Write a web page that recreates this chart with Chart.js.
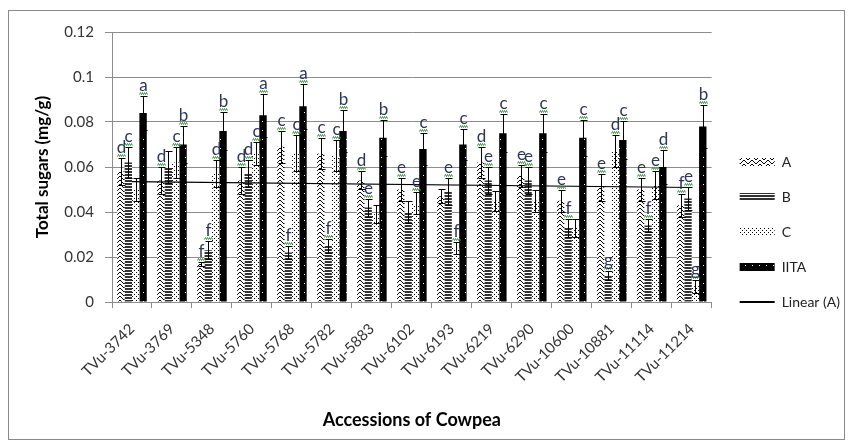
<!DOCTYPE html>
<html>
<head>
<meta charset="utf-8">
<script src="https://cdn.jsdelivr.net/npm/chart.js@4"></script>
<style>
body { margin: 0; background: #fff; overflow: hidden; }
#wrap { width: 853px; height: 448px; position: relative; }
</style>
</head>
<body>
<div id="wrap"><canvas id="sugars"></canvas></div>
<script>
const categories = ['TVu-3742', 'TVu-3769', 'TVu-5348', 'TVu-5760', 'TVu-5768', 'TVu-5782', 'TVu-5883', 'TVu-6102',
    'TVu-6193', 'TVu-6219', 'TVu-6290', 'TVu-10600', 'TVu-10881', 'TVu-11114', 'TVu-11214'];

const valuesA = [0.058, 0.054, 0.017, 0.054, 0.069, 0.066, 0.054, 0.050, 0.047, 0.062, 0.056, 0.045, 0.051, 0.050, 0.043];
const valuesB = [0.062, 0.060, 0.023, 0.057, 0.022, 0.025, 0.042, 0.040, 0.049, 0.054, 0.054, 0.033, 0.012, 0.034, 0.046];
const valuesC = [0.050, 0.062, 0.057, 0.066, 0.066, 0.065, 0.039, 0.044, 0.024, 0.045, 0.045, 0.033, 0.067, 0.052, 0.007];
const valuesIITA = [0.084, 0.070, 0.076, 0.083, 0.087, 0.076, 0.073, 0.068, 0.070, 0.075, 0.075, 0.073, 0.072, 0.060, 0.078];

const errorsA = [0.006, 0.006, 0.001, 0.006, 0.007, 0.007, 0.004, 0.005, 0.003, 0.007, 0.005, 0.005, 0.006, 0.005, 0.005];
const errorsB = [0.007, 0.007, 0.004, 0.006, 0.003, 0.003, 0.004, 0.005, 0.006, 0.006, 0.006, 0.004, 0.002, 0.003, 0.005];
const errorsC = [0.005, 0.007, 0.006, 0.005, 0.008, 0.007, 0.004, 0.005, 0.0025, 0.0045, 0.005, 0.004, 0.007, 0.006, 0.003];
const errorsIITA = [0.0075, 0.008, 0.0085, 0.0095, 0.010, 0.0095, 0.008, 0.007, 0.007, 0.0085, 0.0085, 0.008, 0.0085, 0.0075, 0.0095];

const lettersA = ['d', 'd', 'f', 'd', 'c', 'c', 'd', 'e', '', 'd', 'e', 'e', 'e', 'e', 'f'];
const lettersB = ['c', '', 'f', 'd', 'f', 'f', 'e', '', 'e', 'e', 'e', 'f', 'g', 'f', 'e'];
const lettersC = ['', 'c', 'd', 'c', 'c', 'c', '', 'e', 'f', '', '', '', 'd', 'e', 'g'];
const lettersIITA = ['a', 'b', 'b', 'a', 'a', 'b', 'b', 'c', 'c', 'c', 'c', 'c', 'c', 'd', 'b'];

// Linear (A) trendline, read at first and last accession
const trendLineA = [0.0535, null, null, null, null, null, null, null, null, null, null, null, null, null, 0.0509];

const yTickLabels = ['0', '0.02', '0.04', '0.06', '0.08', '0.1', '0.12'];

function makePattern(w, h, bg, fg, pixels) {
    const c = document.createElement('canvas');
    c.width = w; c.height = h;
    const g = c.getContext('2d');
    g.fillStyle = bg; g.fillRect(0, 0, w, h);
    g.fillStyle = fg;
    for (const p of pixels) g.fillRect(p[0], p[1], 1, 1);
    return g.createPattern(c, 'repeat');
}

// zig zag hatch, 8x8 tile
const zig = [];
[[0, 7], [1, 6], [2, 5], [3, 4]].forEach((r, i) => {
    zig.push([r[0], i], [r[1], i], [r[0], i + 4], [r[1], i + 4]);
});
const patA = makePattern(8, 8, '#fff', '#000', zig);
const patB = makePattern(4, 3, '#fff', '#333', [[0, 0], [1, 0], [2, 0], [3, 0], [0, 1], [1, 1], [2, 1], [3, 1]]);
const patC = makePattern(4, 4, '#fff', '#000', [[0, 0], [2, 2]]);
const patIITA = makePattern(7, 9, '#000', '#fff', [[3, 4]]);

const barSets = [
    {label: 'A', values: valuesA, errors: errorsA, letters: lettersA, fill: patA},
    {label: 'B', values: valuesB, errors: errorsB, letters: lettersB, fill: patB},
    {label: 'C', values: valuesC, errors: errorsC, letters: lettersC, fill: patC},
    {label: 'IITA', values: valuesIITA, errors: errorsIITA, letters: lettersIITA, fill: patIITA}
];

const datasets = barSets.map(s => ({
    type: 'bar', label: s.label, data: s.values, backgroundColor: s.fill,
    borderWidth: 0, categoryPercentage: 0.74, barPercentage: 1.0, order: 1
}));
datasets.push({
    type: 'line', label: 'Linear (A)', data: trendLineA, borderColor: '#000', borderWidth: 1.2,
    pointRadius: 0, spanGaps: true, fill: false, order: 0
});

const frame = {
    id: 'frame',
    afterLayout(chart) {
        // nudge legend a little to the right, like the original
        chart.legend.left += 7;
        chart.legend.right += 7;
    },
    beforeDraw(chart) {
        const ctx = chart.ctx;
        ctx.save();
        ctx.fillStyle = '#fff';
        ctx.fillRect(0, 0, chart.width, chart.height);
        ctx.strokeStyle = '#8a8a8a';
        ctx.lineWidth = 1;
        ctx.strokeRect(8.5, 10.5, 836, 429);
        ctx.restore();
    }
};

const errorBars = {
    id: 'errorBars',
    afterDatasetsDraw(chart) {
        const ctx = chart.ctx;
        const y = chart.scales.y;
        ctx.save();
        barSets.forEach((s, d) => {
            const meta = chart.getDatasetMeta(d);
            meta.data.forEach((bar, j) => {
                const x = Math.round(bar.x) + 0.5;
                const top = Math.round(y.getPixelForValue(s.values[j] + s.errors[j])) + 0.5;
                const bot = Math.round(y.getPixelForValue(s.values[j] - s.errors[j])) + 0.5;
                ctx.strokeStyle = '#000';
                ctx.lineWidth = 1;
                ctx.beginPath();
                ctx.moveTo(x, top); ctx.lineTo(x, bot);
                ctx.moveTo(x - 3, top); ctx.lineTo(x + 4, top);
                ctx.moveTo(x - 3, bot); ctx.lineTo(x + 4, bot);
                ctx.stroke();
                const letter = s.letters[j];
                if (letter) {
                    ctx.strokeStyle = '#3c9a3c';
                    ctx.beginPath();
                    for (let k = 0; k <= 8; k++) {
                        const px = x - 4 + k;
                        const py = top - 3 + (k % 2 ? -1 : 1);
                        if (k === 0) ctx.moveTo(px, py); else ctx.lineTo(px, py);
                    }
                    ctx.stroke();
                    ctx.fillStyle = '#2c3756';
                    ctx.font = '17px Lato';
                    ctx.textAlign = 'center';
                    ctx.textBaseline = 'alphabetic';
                    ctx.fillText(letter, x, top - 6);
                }
            });
        });
        ctx.restore();
    }
};

const gridColor = '#8c8c8c';

new Chart(document.getElementById('sugars'), {
    data: {labels: categories, datasets: datasets},
    options: {
        responsive: true,
        maintainAspectRatio: false,
        animation: false,
        layout: {padding: {left: 8, right: 10, top: 32, bottom: 16}},
        plugins: {
            tooltip: {enabled: false},
            legend: {
                position: 'right',
                labels: {
                    usePointStyle: true,
                    pointStyleWidth: 35,
                    boxHeight: 8,
                    padding: 21,
                    color: '#222',
                    font: {family: 'Lato', size: 14},
                    sort: (a, b) => a.datasetIndex - b.datasetIndex,
                    generateLabels(chart) {
                        const items = Chart.defaults.plugins.legend.labels.generateLabels(chart);
                        items.forEach(it => {
                            const ds = chart.data.datasets[it.datasetIndex];
                            if (ds.type === 'line') {
                                it.pointStyle = 'line';
                                it.lineWidth = 2;
                                it.strokeStyle = '#000';
                            } else {
                                it.pointStyle = 'rect';
                                it.lineWidth = 0;
                            }
                        });
                        return items;
                    }
                }
            }
        },
        scales: {
            x: {
                offset: true,
                afterFit(scale) { scale.height = 130; },
                grid: {drawOnChartArea: false, offset: true, tickLength: 6, color: gridColor},
                border: {color: gridColor},
                ticks: {
                    autoSkip: false, maxRotation: 45, minRotation: 45, padding: 12,
                    color: '#333', font: {family: 'Lato', size: 15}
                },
                title: {
                    display: true, text: 'Accessions of Cowpea', color: '#000',
                    font: {family: 'Lato', size: 18, weight: 'bold'}, padding: {top: 0, bottom: 1}
                }
            },
            y: {
                min: 0, max: 0.12,
                afterFit(scale) { scale.width = 104; },
                grid: {color: gridColor, tickLength: 7},
                border: {color: gridColor},
                ticks: {
                    stepSize: 0.02, padding: 11, color: '#333',
                    font: {family: 'Lato', size: 15},
                    callback: (v, i) => yTickLabels[i]
                },
                title: {
                    display: true, text: 'Total sugars (mg/g)', color: '#000',
                    font: {family: 'Lato', size: 17, weight: 'bold'}, padding: {top: 24, bottom: 0}
                }
            }
        }
    },
    plugins: [frame, errorBars]
});
</script>
</body>
</html>
